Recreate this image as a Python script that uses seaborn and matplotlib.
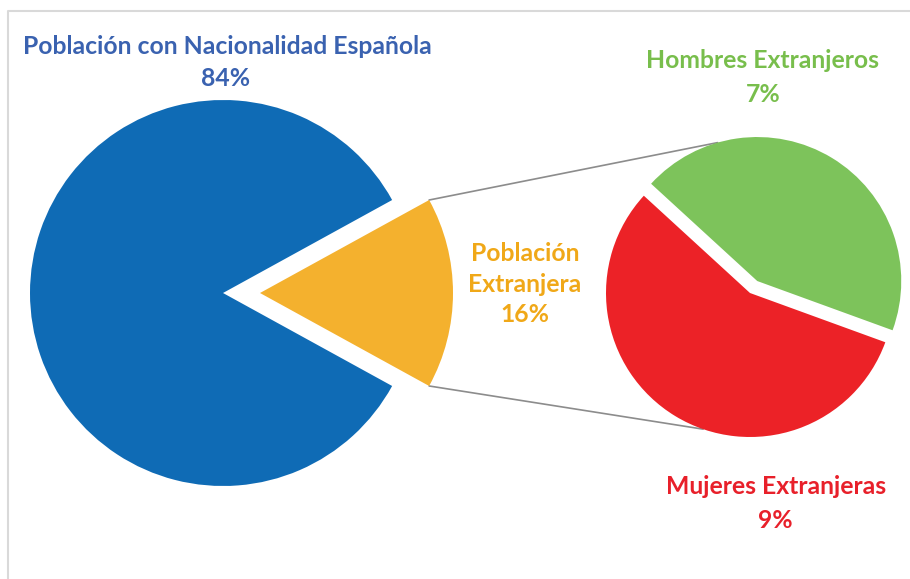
import numpy as np
import matplotlib
matplotlib.use('Agg')
import matplotlib.pyplot as plt
import seaborn as sns

# datos
main_labels = ['Población\nExtranjera', 'Población con Nacionalidad Española']
main_values = [16, 84]
sub_labels = ['Hombres Extranjeros', 'Mujeres Extranjeras']
sub_values = [7, 9]

pie_colors = ['#F4B12E', '#0F6BB5']
sub_colors = ['#7DC35B', '#EC2227']
txt_blue = '#3A62B0'
txt_orange = '#F0A818'
txt_green = '#78BE4C'
txt_red = '#E8202A'

sns.set_theme(style='white')
plt.rcParams['font.family'] = ['Lato', 'DejaVu Sans']

W, H = 910, 579
fig = plt.figure(figsize=(W / 100, H / 100), dpi=100)
ax = fig.add_axes([0, 0, 1, 1])

# pastel principal: el sector extranjero se separa hacia la derecha
half = 360 * main_values[0] / sum(main_values) / 2
w_main, _ = ax.pie(main_values, colors=pie_colors, startangle=-half,
                   radius=193, center=(223, H - 293), explode=[37, 0],
                   wedgeprops=dict(linewidth=0))

# pastel secundario con el desglose por sexo
w_sub, _ = ax.pie(sub_values, colors=sub_colors, startangle=-20,
                  radius=144, center=(750, H - 293), explode=[14, 0],
                  wedgeprops=dict(linewidth=0))


def arc_point(w, ang):
    cx, cy = w.center
    a = np.deg2rad(ang)
    return cx + w.r * np.cos(a), cy + w.r * np.sin(a)


# lineas que unen el sector con el segundo pastel
orange = w_main[0]
p1 = arc_point(orange, orange.theta2)
p2 = arc_point(w_sub[0], 106)
q1 = arc_point(orange, orange.theta1)
q2 = arc_point(w_sub[1], 251)
for a, b in [(p1, p2), (q1, q2)]:
    ax.plot([a[0], b[0]], [a[1], b[1]], color='#8C8C8C', lw=1.2, zorder=0)

# marco gris (solo se ven los bordes superior e izquierdo)
ax.plot([8, 8, W + 5], [-5, H - 11, H - 11], color='#D9D9D9', lw=1.5,
        clip_on=False)

fs = 17.8
pct = lambda v: f'{v}%'
ax.text(227, H - 46, main_labels[1], color=txt_blue, fontsize=fs,
        fontweight='bold', ha='center', va='center')
ax.text(226, H - 79, pct(main_values[1]), color=txt_blue, fontsize=fs,
        fontweight='bold', ha='center', va='center')
ax.text(525, H - 284, main_labels[0] + '\n' + pct(main_values[0]),
        color=txt_orange, fontsize=fs, fontweight='bold', ha='center',
        va='center', linespacing=1.42)
ax.text(763, H - 61, sub_labels[0], color=txt_green, fontsize=fs,
        fontweight='bold', ha='center', va='center')
ax.text(763, H - 94, pct(sub_values[0]), color=txt_green, fontsize=fs,
        fontweight='bold', ha='center', va='center')
ax.text(776, H - 487, sub_labels[1], color=txt_red, fontsize=fs,
        fontweight='bold', ha='center', va='center')
ax.text(775, H - 521, pct(sub_values[1]), color=txt_red, fontsize=fs,
        fontweight='bold', ha='center', va='center')

ax.set_xlim(0, W)
ax.set_ylim(0, H)
ax.set_aspect('auto')
ax.axis('off')

fig.savefig('out.png', dpi=100)
